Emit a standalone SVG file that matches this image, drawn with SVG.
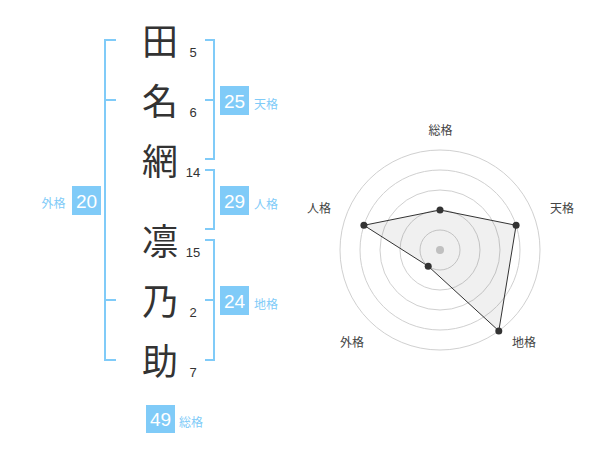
<svg xmlns="http://www.w3.org/2000/svg" width="600" height="470" viewBox="0 0 600 470">
<style>
.kj{font-family:"Noto Sans CJK JP","Noto Sans CJK SC",sans-serif;font-size:36px;fill:#333;text-anchor:middle}
.num{font-family:"Liberation Sans",Arial,sans-serif;font-size:13px;fill:#333;text-anchor:middle}
.br{fill:none;stroke:#80cbf8;stroke-width:2}
.box{fill:#80cbf8}
.bt{font-family:"Liberation Sans",Arial,sans-serif;font-size:19px;fill:#fff;text-anchor:middle}
.bl{font-family:"Noto Sans CJK JP","Noto Sans CJK SC",sans-serif;font-size:12px;fill:#80cbf8;text-anchor:middle}
.ring{fill:none;stroke:#d0d0d0;stroke-width:1}
.rl{font-family:"Noto Sans CJK JP","Noto Sans CJK SC",sans-serif;font-size:12px;fill:#444;text-anchor:middle}
.pt{fill:#333}
</style>
<rect width="600" height="470" fill="#fff"/>
<g id="name">
<g id="c1"><text class="kj" x="160" y="55">田</text><text class="num" x="193" y="57">5</text></g>
<g id="c2"><text class="kj" x="160" y="115">名</text><text class="num" x="193" y="117">6</text></g>
<g id="c3"><text class="kj" x="160" y="175">網</text><text class="num" x="193" y="177">14</text></g>
<g id="c4"><text class="kj" x="160" y="255">凛</text><text class="num" x="193" y="257">15</text></g>
<g id="c5"><text class="kj" x="160" y="315">乃</text><text class="num" x="193" y="317">2</text></g>
<g id="c6"><text class="kj" x="160" y="375">助</text><text class="num" x="193" y="377">7</text></g>
</g>
<g id="brackets">
<path class="br" d="M116,40 H105 V360 H116 M105,100 H116 M105,300 H116"/>
<path class="br" d="M205,40 H214 V159 H205 M205,100 H214"/>
<path class="br" d="M205,170 H214 V229 H205"/>
<path class="br" d="M205,240 H214 V360 H205 M205,300 H214"/>
</g>
<g id="tenkaku"><rect class="box" x="220" y="86" width="29" height="29"/><text class="bt" x="234.5" y="107.5">25</text><text class="bl" x="266" y="109">天格</text></g>
<g id="jinkaku"><rect class="box" x="220" y="186" width="29" height="29"/><text class="bt" x="234.5" y="207.5">29</text><text class="bl" x="266" y="209">人格</text></g>
<g id="chikaku"><rect class="box" x="220" y="286" width="29" height="29"/><text class="bt" x="234.5" y="307.5">24</text><text class="bl" x="266" y="309">地格</text></g>
<g id="gaikaku"><rect class="box" x="72" y="186" width="29" height="29"/><text class="bt" x="86.5" y="207.5">20</text><text class="bl" x="53.5" y="208">外格</text></g>
<g id="soukaku"><rect class="box" x="146" y="405" width="29" height="28"/><text class="bt" x="160.5" y="426">49</text><text class="bl" x="191" y="426.5">総格</text></g>
<g id="radar">
<circle class="ring" cx="440" cy="250" r="20"/>
<circle class="ring" cx="440" cy="250" r="40"/>
<circle class="ring" cx="440" cy="250" r="60"/>
<circle class="ring" cx="440" cy="250" r="80"/>
<circle class="ring" cx="440" cy="250" r="100"/>
<circle cx="440" cy="250" r="4" fill="#ccc"/>
<polygon points="440,210 516.1,225.3 498.8,330.9 428.2,266.2 363.9,225.3" fill="#000" fill-opacity="0.06" stroke="#333" stroke-width="1"/>
<circle class="pt" cx="440" cy="210" r="3.5"/>
<circle class="pt" cx="516.1" cy="225.3" r="3.5"/>
<circle class="pt" cx="498.8" cy="330.9" r="3.5"/>
<circle class="pt" cx="428.2" cy="266.2" r="3.5"/>
<circle class="pt" cx="363.9" cy="225.3" r="3.5"/>
<text class="rl" x="440.5" y="134.5">総格</text>
<text class="rl" x="562" y="212.5">天格</text>
<text class="rl" x="524" y="347">地格</text>
<text class="rl" x="352" y="347">外格</text>
<text class="rl" x="319" y="212.5">人格</text>
</g>
</svg>
